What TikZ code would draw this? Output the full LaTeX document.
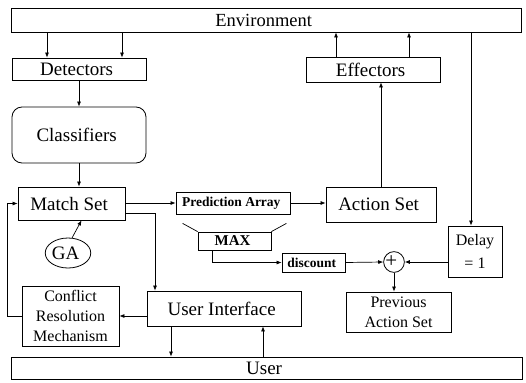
\documentclass[tikz,border=0pt]{standalone}
\usepackage{fontspec}
\setmainfont{Liberation Serif}
\usepackage{tikz}
\usetikzlibrary{
arrows.meta,
shapes.geometric
}
\tikzset{
box/.style={draw, line width=0.8pt, inner sep=0pt, align=center,
  font=\fontsize{19}{22}\selectfont},
midbox/.style={box, font=\fontsize{16}{20}\selectfont},
tinybox/.style={box, font=\bfseries\fontsize{13.5}{15}\selectfont},
arr/.style={-{Latex[length=5pt,width=4pt]}, line width=0.7pt},
link/.style={line width=0.7pt}
}

\begin{document}
\begin{tikzpicture}[x=1pt,y=-1pt]
\useasboundingbox (0,0) rectangle (526,382);

\node[
box,
font=\fontsize{18.5}{21}\selectfont,
minimum width=510pt,
minimum height=24pt
]
(env) at (266,20)
{
Environment
};

\node[
box,
minimum width=134pt,
minimum height=22pt
]
(det) at (79,69)
{
Detectors
};

\node[
box,
rounded corners=10pt,
minimum width=134pt,
minimum height=56pt
]
(cls) at (79,135)
{
Classifiers
};

\node[
box,
minimum width=107pt,
minimum height=33pt
]
(match) at (71.5,203.5)
{
Match Set
};

\node[
box,
ellipse,
minimum width=44pt,
minimum height=30pt
]
(ga) at (68,253)
{
GA
};

\node[
tinybox,
minimum width=114pt,
minimum height=22pt
]
(pred) at (233,203)
{
Prediction Array
};

\node[
tinybox,
font=\bfseries\fontsize{15}{17}\selectfont,
minimum width=73pt,
minimum height=18pt
]
(maxbox) at (234.5,241)
{
MAX
};

\node[
tinybox,
minimum width=63pt,
minimum height=19pt
]
(disc) at (313.5,262.5)
{
discount
};

\node[
box,
circle,
font=\fontsize{21}{21}\selectfont,
minimum size=18pt
]
(plus) at (394,262)
{
+
};

\node[
midbox,
font=\fontsize{16}{23}\selectfont,
minimum width=54pt,
minimum height=51pt
]
(delay) at (475,251.5)
{
Delay\\= 1
};

\node[
box,
minimum width=110pt,
minimum height=35pt
]
(act) at (381,204.5)
{
Action Set
};

\node[
box,
minimum width=134pt,
minimum height=25pt
]
(eff) at (373,69.5)
{
Effectors
};

\node[
midbox,
minimum width=105pt,
minimum height=40pt
]
(prev) at (398.5,312)
{
Previous\\Action Set
};

\node[
box,
minimum width=154pt,
minimum height=35pt
]
(ui) at (224,308.5)
{
User Interface
};

\node[
midbox,
minimum width=97pt,
minimum height=60pt
]
(crm) at (70.5,316)
{
Conflict\\Resolution\\Mechanism
};

\node[
box,
minimum width=511pt,
minimum height=22pt
]
(user) at (266.5,368)
{
User
};

% taps on the long bars
\coordinate (detA) at (47,69);
\coordinate (detB) at (122,69);
\coordinate (effA) at (336,69);
\coordinate (effB) at (409,69);
\coordinate (dly) at (471,251);
\coordinate (uiA) at ([xshift=-53pt]ui.south);
\coordinate (uiB) at ([xshift=39pt]ui.south);
\coordinate (msB) at ([yshift=-10pt]match.east);
\coordinate (uiT) at ([xshift=-69pt]ui.north);

\draw[arr] (env.south -| detA) -- (det.north -| detA);
\draw[arr] (env.south -| detB) -- (det.north -| detB);
\draw[arr] (det.south) -- (cls.north);
\draw[arr] (cls.south) -- (cls.south |- match.north);
\draw[arr] (ga.75) -- ([xshift=10pt]match.south);
\draw[arr] (match.east |- pred.west) -- (pred.west);
\draw[arr] (pred.east) -- (pred.east -| act.west);
\draw[link] ([shift={(7,9)}]pred.south west) -- (maxbox.north west);
\draw[link] ([shift={(-4,9)}]pred.south east) -- (maxbox.north east);
\draw[arr] ([xshift=-22pt]maxbox.south) |- (disc.west);
\draw[arr] (disc.east) -- (plus.west);
\draw[arr] (delay.west |- plus.east) -- (plus.east);
\draw[arr] (plus.south) -- (plus.south |- prev.north);
\draw[arr] (act.north) -- (act.north |- eff.south);
\draw[arr] (eff.north -| effA) -- (env.south -| effA);
\draw[arr] (eff.north -| effB) -- (env.south -| effB);
\draw[arr] (env.south -| dly) -- (delay.north -| dly);
\draw[arr] (msB) -| (uiT);
\draw[arr] (ui.west |- crm.east) -- (crm.east);
\draw[arr] (crm.west) -- ++(-14,0) |- (match.west);
\draw[arr] (uiA) -- (uiA |- user.north);
\draw[arr] (uiB |- user.north) -- (uiB);

\end{tikzpicture}
\end{document}
